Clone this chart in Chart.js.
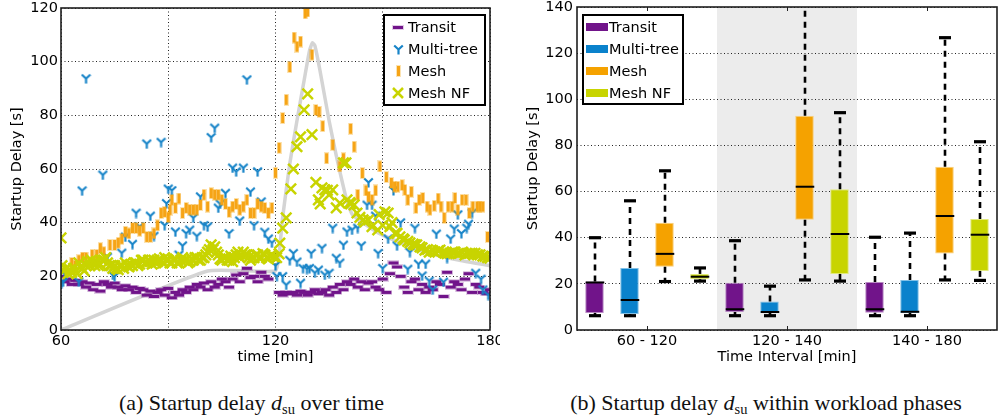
<!DOCTYPE html>
<html>
<head>
<meta charset="utf-8">
<script src="https://cdn.jsdelivr.net/npm/chart.js@4.4.1/dist/chart.umd.min.js"></script>
<style>
html, body { margin: 0; padding: 0; background: #fff; }
#wrap { position: relative; width: 999px; height: 420px; overflow: hidden; }
#c1 { position: absolute; left: 0; top: 0; }
#c2 { position: absolute; left: 500px; top: 0; }
.cap { position: absolute; top: 390px; text-align: center; font-family: "Liberation Serif", "DejaVu Serif", serif; font-size: 22px; color: #111; white-space: nowrap; line-height: 26px; }
.cap sub { font-size: 14.5px; vertical-align: -4px; line-height: 0; }
</style>
</head>
<body>
<div id="wrap">
  <canvas id="c1" width="500" height="372"></canvas>
  <canvas id="c2" width="499" height="372"></canvas>
  <div class="cap" style="left:0;width:503px">(a) Startup delay <i>d</i><sub>su</sub> over time</div>
  <div class="cap" style="left:516px;width:500px">(b) Startup delay <i>d</i><sub>su</sub> within workload phases</div>
</div>
<script>
// ---- data (a): [time min, startup delay s]
const transit = [[60,20],[61,18],[62,19],[63,17],[64,18.5],[65,17],[66,18],[67,16],[68,17.5],[69,15],[70,17],[71,14.5],[72,18],[73,17],[74,16],[75,17.5],[76,16],[77,15],[78,16.5],[79,15],[80,16],[81,14],[82,15.5],[83,15],[84,13],[85,14.5],[86,12.5],[87,14],[88,15],[89,13],[90,15.5],[91,12],[92,14],[93,13],[94,15],[95,14],[96,16],[97,15],[98,17],[99,16],[100,17.5],[101,15],[102,18],[103,16],[104,17],[105,19],[106,18],[107,16],[108,19],[109,20.5],[110,18],[111,21],[112,23],[113,19.5],[114,20],[115,18],[116,21.5],[117,20],[118,19],
  [121,14],[122,13],[123,14],[124,13.5],[125,14],[126,13],[127,14.5],[128,14],[129,13],[130,14],[131,15],[132,13.5],[133,14],[134,15],[135,13],[136,16],[137,14],[138,17],[139,15],[140,18],
  [141,17],[142,19],[143,16],[144,18],[145,15],[146,17.5],[147,18],[148,16],[149,15],[150,19],[151,14],[152,21],[153,25],[154,23.5],[155,20],[156,16],[157,14],[158,18],[159,19],[160,15],[161,17],[162,14],[163,16],[164,15],[165,18],[166,17],[167,12.5],[168,21.5],[169,16],[170,18],[171,17],[172,15],[173,19],[174,21],[175,14],[176,17],[177,16],[178,14],[179,13.5],[180,15]];

const multiTree = [[60.2,17.5],[60.6,18],[61,21],[63.4,23],[65,18],[65.9,51.9],[67,93.7],[71.7,57.8],[73,27.2],[74.5,20.5],[75,20],[77,28.7],[78,34.7],[80,32],[81,43.6],[82,38.5],[84,69.4],[85,42.5],[86,35],[88,70],[89,39],[89.5,47.2],[90,52.6],[91,52],[92,36.6],[93,28],[94,31.4],[95,36],[96,37.3],[97,41.8],[98,35],[99,49.7],[100,39],[101,38.5],[102,71.8],[103,75.3],[104,45.5],[104.5,47],[106,51],[107,36],[108,60.4],[109,59],[110,40.7],[111,60.4],[112,93.3],[113,51.5],[114,39],[115,59],[116,47.8],[117,36.5],[118,34],[119,32.5],
  [120,24],[120.4,20],[122,20],[123,16.8],[124,26],[125,28.6],[126,25.4],[127,17.5],[127.7,23],[128.8,22.7],[129.5,23],[130,28.6],[131,21.3],[132,22.4],[133,30.5],[133.8,20.5],[135,21.2],[136,38],[137,26.8],[138,25],[139,31.7],[140,36.6],[141.4,37.3],[143,38],[144,31.4],[145.6,46.6],[146,55],[147,46.6],[148,42.5],[148.7,28.6],
  [150,23],[151.5,34],[153,52],[154,31.4],[155,40],[157,22.7],[157.6,29],[159,38],[160,24.6],[161,20.2],[162,24.6],[163,18.3],[164,15],[165,35.8],[167,17.9],[168,26.8],[169,34],[170,37.7],[171,43],[172,36],[173.5,38],[174,39.5],[175,43.6],[176,21.2],[177.5,19],[178,15],[179.5,13]];

const mesh = [[63,25],[64,24],[65,26],[66,27],[67,27],[68.7,28],[70,28],[71,30.5],[72,29],[73.7,31.7],[75,31.7],[76,32.5],[77,34],[78,36.6],[79,36],[80,38],[81,38],[82,37],[83,38],[84,34.7],[85,34.7],[86,36],[87,39],[88,43.6],[89,44],[90,42],[90.5,44.8],[91,48.5],[92,45.5],[93,49],[94,43.6],[95,45.5],[96,44.8],[97,44.8],[98,44.8],[99,46.6],[100,50.4],[101,46],[102,51],[103,50.4],[104,50.4],[105,48.5],[106,47],[107,44],[108,46],[109,47],[110,44.8],[111,46],[112,48.5],[113,43.6],[114,43.6],[115,47],[116,46],[117,45.5],[118,43.6],[119,45.5],
  [120,58.6],[121,67.9],[122,79],[123,85.8],[124,98],[125.2,109],[126,105.6],[127,107.5],[128.3,118],[129,118.7],[130.2,102.6],[131.3,82],[132.2,81.3],[133.2,76],[134.3,64],[136,69],[138,61],[139,64],[141,75],[142,68.3],[143,50.4],[144.3,58.5],[145.3,52],[146,49.7],[147,48.5],[148,52],[149.2,61],
  [151,57],[152.4,54.8],[153.3,53.4],[154.2,53.4],[155.4,54],[156.2,52.2],[157,48.5],[158,51.5],[159.3,45.5],[160.2,48.5],[161.2,49.2],[162.4,46],[163.2,44.8],[164.4,46.3],[165.5,49],[166.3,46],[167.2,41.8],[168.3,46],[169.4,46],[170.2,49.2],[171,44.8],[172.2,48.5],[173.3,48.5],[174.2,43.6],[175.2,46],[176.4,46],[177.2,46],[178,46],[179.3,34.7]];

const meshNf = [[60,34.3],[60.3,24],[60.8,22],[61.5,23],[62,21],[62.5,22.5],[63,21.5],[63.5,23],[64,22],[64.5,21],[65,25],[65.5,23.5],[66,23],[66.5,22],[67,24],[67.5,25.5],[68,24],[68.5,26],[69,25],[69.5,24],[70,25.5],[70.5,24],[71,24.5],[71.5,26],[72,26],[72.5,27],[73,25],[73.5,24],[74,24],[74.5,23],[75,24],[75.5,23],[76,22.5],[76.5,24],[77,24],[77.5,23],[78,25],[78.5,24],[79,23.5],[79.5,24.5],
  [80,24],[80.5,25],[81,25],[81.5,24],[82,24.5],[82.5,26],[83,26],[83.5,25],[84,25],[84.5,26],[85,25.5],[85.5,24.5],[86,26],[86.5,25],[87,25.5],[87.5,26.5],[88,26],[88.5,25],[89,27],[89.5,26],[90,26],[90.5,25],[91,25],[91.5,26],[92,26.5],[92.5,25],[93,25],[93.5,26],[94,27],[94.5,26],[95,26],[95.5,25],[96,25.5],[96.5,26.5],[97,26],[97.5,27],[98,27],[98.5,26],[99,26],[99.5,27],
  [100,27],[100.5,28],[101,29],[101.5,30],[102,31.7],[102.5,30],[103,31],[103.5,29],[104,28],[104.5,26.5],[105,26],[105.5,27],[106,27],[106.5,26],[107,26],[107.5,27.5],[108,25.5],[108.5,27],[109,28],[109.5,29],[110,27],[110.5,28],[111,29],[111.5,28],[112,28],[112.5,27],[113,26],[113.5,27],[114,27],[114.5,28],[115,28],[115.5,27],[116,27],[116.5,28.5],[117,28],[117.5,27],[118,26.5],[118.5,27.5],[119,28],[119.5,27.3],
  [120.3,27],[121,28.4],[121.2,32.4],[122,38],[123,41.8],[124.3,52.6],[125,60],[126,68.3],[127,72],[128,82],[129,88],[130.2,72.8],[131.3,55],[132,48.5],[132.5,47],[133,53],[133.8,52.2],[134.5,52],[135,50.4],[136,52.2],[137,45.5],[138,47.3],[139,62.3],[139.7,62.3],[140,48.5],[140.8,47.5],[141,47],[142,46.6],[142.8,43.6],[143.6,42],[144.5,41],[145,40.3],[146,41],[147,38.5],[148.6,37.3],[149,43],
  [150,39],[150.6,44],[151.5,43.6],[152,38.5],[152.6,40],[153.4,36],[154,36],[154.8,34.7],[155.7,34],[156,33.6],[157,33],[157.6,32.5],[158.5,32],[159,31.7],[159.5,31.7],[160.4,31],[161,30.6],[161.8,29.8],[162.5,30],[163,29],[164,29.5],[164.6,29],[165.5,29.5],[166,29.8],[167,29],[167.4,28.6],[168,28.5],[168.8,28.6],[169.5,29],[170.2,29],[171,28.5],[171.6,28.6],[172.3,29],[173,28],[173.7,28.5],[174.4,28.6],[175,28.6],[175.8,28.6],[176.5,28],[177.2,28],[178,27.5],[178.6,27.4],[179.3,27],[180,26.8]];

// gray reference curve
const refCurve = [[60,0],[101,22],[120,22],[121,28],[122,42],[124,62],[126,78],[128,93],[129.5,104],[130.3,107],[131,106],[132.4,97],[135,78],[137,65],[140,48],[141.5,43],[146,38.5],[149,36],[155,32.5],[163,28.6],[171.5,26],[180,24]];

// ---- data (b): per phase [low whisker, q1, median, q3, high whisker]
const phases = ['60 - 120', '120 - 140', '140 - 180'];
const transitBox = [[6.2, 7.4, 20.6, 21, 40], [6.2, 7.8, 9, 20.5, 38.7], [6.2, 7.5, 9, 20.8, 40.2]];
const multiTreeBox = [[6.2, 6.9, 13, 26.9, 56], [6.2, 7.4, 7.8, 12.3, 19], [6.2, 7.4, 7.9, 21.7, 42]];
const meshBox = [[21, 27.4, 33, 46.5, 69], [21.7, 47.8, 62.1, 92.9, 150], [21.7, 33.2, 49.4, 70.8, 126.7]];
const meshNfBox = [[21.2, 22, 23.1, 24.3, 26.9], [21.2, 24.3, 41.6, 61, 94.2], [21.5, 25.6, 41.3, 48.1, 81.6]];

const PURPLE = '#71148a', BLUE = '#0a82cc', ORANGE = '#f5a200', LIME = '#c8d400';

Chart.defaults.font.family = '"DejaVu Sans", sans-serif';
Chart.defaults.font.size = 14.5;
Chart.defaults.color = '#000';
Chart.defaults.animation = false;
Chart.defaults.events = [];
Chart.defaults.plugins.legend.display = false;
Chart.defaults.plugins.tooltip.enabled = false;

// marker images
function mk(w, h, draw) {
  const c = document.createElement('canvas');
  c.width = w; c.height = h;
  draw(c.getContext('2d'));
  return c;
}
const dashImg = mk(12, 5, g => {
  g.fillStyle = 'rgba(113,20,138,0.22)'; g.fillRect(0, 0, 12, 5);
  g.fillStyle = PURPLE; g.fillRect(1, 1, 10, 3);
});
const triImg = mk(11, 11, g => {
  g.strokeStyle = '#1784c8'; g.lineWidth = 2.2;
  g.beginPath();
  g.moveTo(5.5, 5.5); g.lineTo(1.2, 1.5);
  g.moveTo(5.5, 5.5); g.lineTo(9.8, 1.5);
  g.moveTo(5.5, 5.5); g.lineTo(5.5, 10.5);
  g.stroke();
});
const barImg = mk(5, 12, g => {
  g.fillStyle = 'rgba(245,162,0,0.3)'; g.fillRect(0, 0, 5, 12);
  g.fillStyle = '#f6a416'; g.fillRect(1, 1, 3, 10);
});

function pts(arr) { return arr.map(([x, y]) => ({x, y})); }

function drawMarker(ctx, ds, x, y) {
  if (ds.pointStyle instanceof HTMLCanvasElement) {
    const im = ds.pointStyle;
    ctx.drawImage(im, Math.round(x - im.width / 2), Math.round(y - im.height / 2));
  } else {
    const r = 5;
    ctx.strokeStyle = ds.borderColor; ctx.lineWidth = ds.borderWidth;
    ctx.beginPath();
    ctx.moveTo(x - r, y - r); ctx.lineTo(x + r, y + r);
    ctx.moveTo(x + r, y - r); ctx.lineTo(x - r, y + r);
    ctx.stroke();
  }
}

// keep tick labels from shrinking the plot area
function noPad(s) { s.paddingLeft = 0; s.paddingRight = 0; s.paddingTop = 0; s.paddingBottom = 0; }

const framePlugin = {
  id: 'frame',
  afterDraw(chart, args, opts) {
    const {ctx, chartArea: a} = chart;
    ctx.save();
    if (opts.centerTicks) {
      const xs = chart.scales.x;
      ctx.strokeStyle = '#222'; ctx.lineWidth = 1;
      xs.ticks.forEach((t, i) => {
        const px = Math.round(xs.getPixelForTick(i)) + 0.5;
        ctx.beginPath();
        ctx.moveTo(px, a.top); ctx.lineTo(px, a.top + 4);
        ctx.moveTo(px, a.bottom); ctx.lineTo(px, a.bottom - 4);
        ctx.stroke();
      });
    }
    ctx.strokeStyle = '#1e1e1e'; ctx.lineWidth = 1.6;
    ctx.strokeRect(a.left, a.top, a.width, a.height);
    ctx.restore();
  }
};

const boxLegend = {
  id: 'boxLegend',
  afterDraw(chart, args, opts) {
    const {ctx, chartArea: a} = chart;
    const items = chart.data.datasets.filter(d => d.label);
    const w = opts.width, h = opts.height;
    const bx = opts.side === 'right' ? a.right - opts.dx - w : a.left + opts.dx;
    const by = a.top + opts.dy;
    ctx.save();
    ctx.fillStyle = '#fff';
    ctx.fillRect(bx, by, w, h);
    ctx.strokeStyle = '#000'; ctx.lineWidth = 2;
    ctx.strokeRect(bx, by, w, h);
    ctx.font = '14.5px "DejaVu Sans", sans-serif';
    ctx.textBaseline = 'middle';
    items.forEach((ds, i) => {
      const ry = by + 12 + i * 22;
      if (opts.patch) {
        ctx.fillStyle = ds.backgroundColor;
        ctx.fillRect(bx + 3, ry - 4, 22, 8);
      } else {
        drawMarker(ctx, ds, bx + 14, ry);
      }
      ctx.fillStyle = '#000';
      ctx.fillText(ds.label, bx + opts.textX, ry + 1);
    });
    ctx.restore();
  }
};

const gridDash = [1, 2.5];

// ---------------- chart (a)
new Chart(document.getElementById('c1'), {
  type: 'scatter',
  data: {
    datasets: [
      {label: 'Transit', data: pts(transit), pointStyle: dashImg, pointRadius: 5, order: 4},
      {label: 'Multi-tree', data: pts(multiTree), pointStyle: triImg, pointRadius: 5, order: 3},
      {label: 'Mesh', data: pts(mesh), pointStyle: barImg, pointRadius: 5, order: 2},
      {label: 'Mesh NF', data: pts(meshNf), pointStyle: 'crossRot', pointRadius: 7.4, borderColor: LIME, borderWidth: 2.5, order: 1},
      {type: 'line', data: pts(refCurve), borderColor: '#d4d4d4', borderWidth: 3.5, pointRadius: 0, tension: 0.15, order: 5}
    ]
  },
  options: {
    responsive: false,
    layout: {autoPadding: false, padding: {top: 8, right: 10, left: 0, bottom: 0}},
    scales: {
      x: {
        type: 'linear', min: 60, max: 180,
        afterFit: s => { s.height = 42; noPad(s); },
        ticks: {stepSize: 30, autoSkip: false, maxRotation: 0, padding: 3, callback: v => (v % 60 === 0 ? v : '')},
        grid: {color: '#222', lineWidth: 1, drawTicks: false},
        border: {display: false, dash: gridDash},
        title: {display: true, text: 'time [min]', padding: {top: 0, bottom: 6}}
      },
      y: {
        min: 0, max: 120,
        afterFit: s => { s.width = 61; noPad(s); },
        ticks: {stepSize: 20, padding: 3},
        grid: {color: '#222', lineWidth: 1, drawTicks: false},
        border: {display: false, dash: gridDash},
        title: {display: true, text: 'Startup Delay [s]', padding: {top: 9, bottom: 0}}
      }
    },
    plugins: {
      frame: {},
      boxLegend: {side: 'right', dx: 5, dy: 7, width: 101, height: 90, textX: 24, patch: false}
    }
  },
  plugins: [framePlugin, boxLegend]
});

// ---------------- chart (b)
const bandPlugin = {
  id: 'band',
  beforeDraw(chart, args, opts) {
    const {ctx, chartArea: a} = chart;
    const xs = chart.scales.x;
    const x0 = xs.getPixelForValue(opts.index - 0.5), x1 = xs.getPixelForValue(opts.index + 0.5);
    ctx.save();
    ctx.fillStyle = '#ececec';
    ctx.fillRect(x0, a.top, x1 - x0, a.height);
    ctx.restore();
  }
};

const whiskerPlugin = {
  id: 'whiskers',
  afterDatasetsDraw(chart) {
    const {ctx, chartArea: a} = chart;
    const ys = chart.scales.y;
    ctx.save();
    ctx.beginPath();
    ctx.rect(a.left, a.top, a.width, a.height);
    ctx.clip();
    const seg = (x0, y0, x1, y1) => { ctx.beginPath(); ctx.moveTo(x0, y0); ctx.lineTo(x1, y1); ctx.stroke(); };
    chart.data.datasets.forEach((ds, di) => {
      const meta = chart.getDatasetMeta(di);
      meta.data.forEach((bar, i) => {
        const [lo, q1, med, q3, hi] = ds.stats[i];
        const x = Math.round(bar.x), half = bar.width / 2;
        const pLo = ys.getPixelForValue(lo), pQ1 = ys.getPixelForValue(q1);
        const pMed = ys.getPixelForValue(med), pQ3 = ys.getPixelForValue(q3), pHi = ys.getPixelForValue(hi);
        ctx.strokeStyle = '#000';
        ctx.lineWidth = 2.6; ctx.setLineDash([6, 5]);
        seg(x, pQ3, x, pHi);
        seg(x, pQ1, x, pLo);
        ctx.setLineDash([]);
        ctx.lineWidth = 3.2;
        seg(x - 6, pHi, x + 6, pHi);
        seg(x - 6, pLo, x + 6, pLo);
        ctx.lineWidth = 2;
        seg(x - half, pMed, x + half, pMed);
      });
    });
    ctx.restore();
  }
};

function boxDataset(label, stats, fill, edge) {
  return {
    label, stats,
    data: stats.map(s => [s[1], s[3]]),
    backgroundColor: fill, borderColor: edge, borderWidth: 1, borderSkipped: false,
    barPercentage: 0.53, categoryPercentage: 1
  };
}

new Chart(document.getElementById('c2'), {
  type: 'bar',
  data: {
    labels: phases,
    datasets: [
      boxDataset('Transit', transitBox, PURPLE, '#b88ac4'),
      boxDataset('Multi-tree', multiTreeBox, BLUE, '#80c0e6'),
      boxDataset('Mesh', meshBox, ORANGE, '#f9cf7a'),
      boxDataset('Mesh NF', meshNfBox, LIME, '#e2ea7a')
    ]
  },
  options: {
    responsive: false,
    layout: {autoPadding: false, padding: {top: 7, right: 2, left: 0, bottom: 0}},
    scales: {
      x: {
        afterFit: s => { s.height = 42; noPad(s); },
        ticks: {maxRotation: 0, padding: 3},
        grid: {display: false, drawTicks: false},
        border: {display: false},
        title: {display: true, text: 'Time Interval [min]', padding: {top: 0, bottom: 6}}
      },
      y: {
        min: 0, max: 140,
        afterFit: s => { s.width = 77; noPad(s); },
        ticks: {stepSize: 20, padding: 4},
        grid: {color: '#222', lineWidth: 1, drawTicks: false},
        border: {display: false, dash: gridDash},
        title: {display: true, text: 'Startup Delay [s]', padding: {top: 25, bottom: 0}}
      }
    },
    plugins: {
      band: {index: 1},
      frame: {centerTicks: true},
      boxLegend: {side: 'left', dx: 6, dy: 8, width: 100, height: 89, textX: 26, patch: true}
    }
  },
  plugins: [bandPlugin, whiskerPlugin, framePlugin, boxLegend]
});
</script>
</body>
</html>
